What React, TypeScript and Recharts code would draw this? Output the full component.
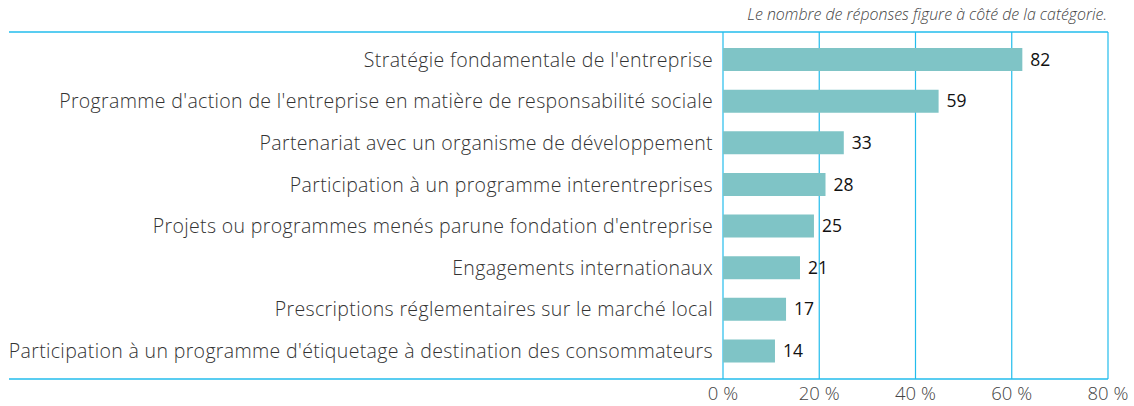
import React from 'react';
import { BarChart, Bar, XAxis, YAxis, CartesianGrid, LabelList } from 'recharts';

const categories = [
  "Stratégie fondamentale de l'entreprise",
  "Programme d'action de l'entreprise en matière de responsabilité sociale",
  "Partenariat avec un organisme de développement",
  "Participation à un programme interentreprises",
  "Projets ou programmes menés parune fondation d'entreprise",
  "Engagements internationaux",
  "Prescriptions réglementaires sur le marché local",
  "Participation à un programme d'étiquetage à destination des consommateurs",
];
const percentValues = [62.2, 44.8, 25.1, 21.3, 18.9, 16.0, 13.1, 10.8];
const responseCounts = [82, 59, 33, 28, 25, 21, 17, 14];
const xTicks = [0, 20, 40, 60, 80];

const titleTail = '(en % des réponses)';
const note = 'Le nombre de réponses figure à côté de la catégorie.';

const data = categories.map((name, i) => ({ name, pct: percentValues[i], count: responseCounts[i] }));

const W = 1134;
const H = 406;
const M = { top: 32, right: 26, bottom: 0, left: 0 };
const Y_W = 723;
const X_H = 27;
const FRAME_LEFT = 9;
const LINE = '#22bcec';
const FONT = '"Open Sans", sans-serif';

export default function App() {
  return (
    <div style={{ position: 'absolute', left: 0, top: 0, width: W, height: H, fontFamily: FONT }}>
      <BarChart width={W} height={H} data={data} layout="vertical" margin={M} barCategoryGap={0}>
        <CartesianGrid horizontal={false} vertical stroke={LINE} strokeWidth={1.2} />
        <XAxis
          type="number"
          domain={[0, 80]}
          ticks={xTicks}
          tickFormatter={(v) => `${v} %`}
          axisLine={false}
          tickLine={false}
          height={X_H}
          tick={{ fill: '#444', fontSize: 18.5, fontWeight: 300, fontFamily: FONT }}
          interval={0}
        />
        <YAxis
          type="category"
          dataKey="name"
          width={Y_W}
          axisLine={false}
          tickLine={false}
          tickMargin={4}
          interval={0}
          padding={{ top: 7, bottom: 7 }}
          tick={{ fill: '#333', fontSize: 19.5, fontWeight: 300, fontFamily: FONT, letterSpacing: 0.35 }}
        />
        <Bar dataKey="pct" fill="#7fc4c6" barSize={23} isAnimationActive={false}>
          <LabelList dataKey="count" position="right" offset={8} fill="#111" fontSize={17.5} fontFamily={FONT} fontWeight={400} />
        </Bar>
      </BarChart>
      <svg width={W} height={H} style={{ position: 'absolute', left: 0, top: 0, pointerEvents: 'none' }}>
        <text x={15} y={-5} fontSize={19} fontWeight={700} fill="#222" fontFamily={FONT}>{titleTail}</text>
        <text x={W - M.right - 1} y={20} textAnchor="end" fontSize={15.9} fontStyle="italic" fontWeight={300} fill="#444" fontFamily={FONT}>{note}</text>
        <line x1={FRAME_LEFT} x2={W - M.right} y1={M.top} y2={M.top} stroke={LINE} strokeWidth={1.5} />
        <line x1={FRAME_LEFT} x2={W - M.right} y1={H - X_H} y2={H - X_H} stroke={LINE} strokeWidth={1.5} />
      </svg>
    </div>
  );
}
